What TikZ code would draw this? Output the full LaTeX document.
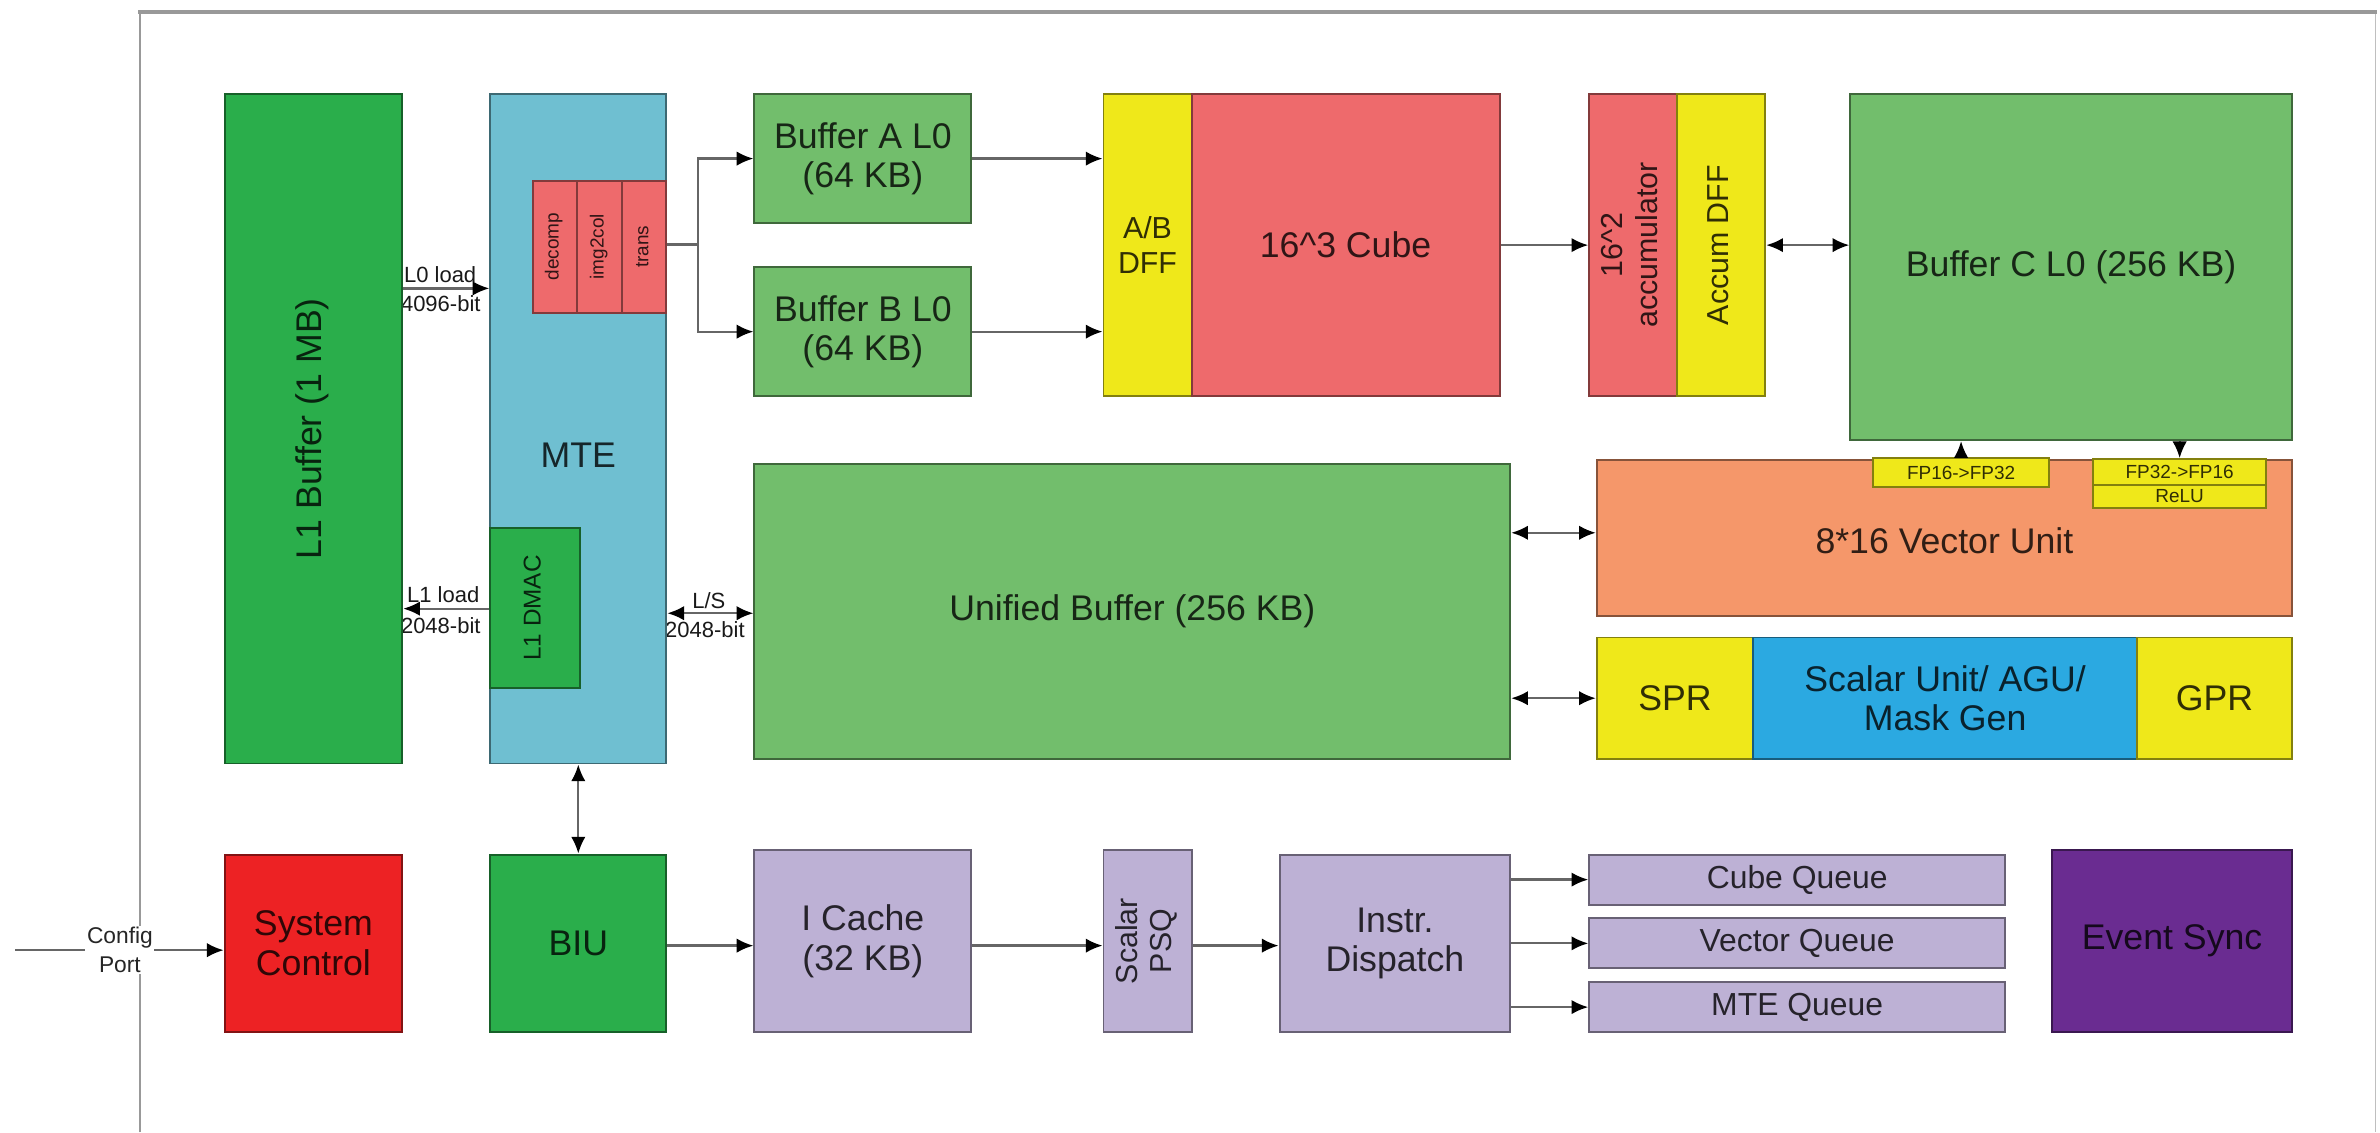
\documentclass[tikz,border=0pt]{standalone}
\usepackage{fontspec}
\setmainfont{Liberation Sans}
\usetikzlibrary{arrows.meta}
\definecolor{dgreen}{HTML}{2AAE4B}
\definecolor{lgreen}{HTML}{72BE6C}
\definecolor{mteblue}{HTML}{6FBFD1}
\definecolor{cubered}{HTML}{EE6A6C}
\definecolor{dffyel}{HTML}{EFE81A}
\definecolor{vecorange}{HTML}{F5976A}
\definecolor{scalblue}{HTML}{2BA9E1}
\definecolor{sysred}{HTML}{ED2224}
\definecolor{lav}{HTML}{BDB1D5}
\definecolor{evpurple}{HTML}{6A2C91}
\newcommand\vtxt[1]{\rotatebox{90}{\begin{tabular}{@{}c@{}}#1\end{tabular}}}
\tikzset{
  blk/.style={draw=#1!55!black, fill=#1, line width=1.3pt, inner sep=0pt,
              text=#1!20!black, align=center, font=\fontsize{23.5}{26}\selectfont},
  small/.style={font=\fontsize{14.5}{15}\selectfont, inner sep=0pt, text=black!90},
  arr/.style={draw=black!60, line width=1.5pt, -{Latex[length=11pt,width=9.5pt,color=black]}},
  darr/.style={draw=black!60, line width=1.5pt, {Latex[length=11pt,width=9.5pt,color=black]}-{Latex[length=11pt,width=9.5pt,color=black]}},
  plain/.style={draw=black!60, line width=1.5pt}
}
\begin{document}
\begin{tikzpicture}[x=1pt,y=-1pt]
\useasboundingbox (0,0) rectangle (1568,746);
% frame
\draw[draw=black!40, line width=1.5pt] (92,746) -- (92,8);
\draw[draw=black!25, line width=1pt] (1565,8) -- (1565,746);
\draw[draw=black!40, line width=3pt] (91,8) -- (1566,8);

% link labels (behind boxes)
\node[small, anchor=west] (l0a) at (266,181) {L0 load};
\node[small, anchor=west] (l0b) at (264,200) {4096-bit};
\node[small, anchor=west] (l1a) at (268,392) {L1 load};
\node[small, anchor=west] (l1b) at (264,412) {2048-bit};
\node[small] (lsa) at (467,396) {L/S};
\node[small, anchor=west] (lsb) at (438,415) {2048-bit};

% top-left column
\node[blk=dgreen, minimum width=117pt, minimum height=441pt] (l1buf) at (206.5,282.5) {\vtxt{L1 Buffer (1 MB)}};
\node[blk=mteblue, minimum width=116pt, minimum height=441pt] (mte) at (381,282.5) {};
\node[text=mteblue!20!black, font=\fontsize{23.5}{26}\selectfont] (mtel) at (381,300) {MTE};
\node[blk=cubered, minimum width=29pt, minimum height=87pt, font=\fontsize{12.5}{13}\selectfont] (decomp) at (365.5,162.5) {\vtxt{decomp}};
\node[blk=cubered, minimum width=30pt, minimum height=87pt, font=\fontsize{12.5}{13}\selectfont] (img2col) at (395,162.5) {\vtxt{img2col}};
\node[blk=cubered, minimum width=29pt, minimum height=87pt, font=\fontsize{12.5}{13}\selectfont] (trans) at (424.5,162.5) {\vtxt{trans}};
\node[blk=dgreen, minimum width=59pt, minimum height=105pt, font=\fontsize{16}{18}\selectfont] (dmac) at (352.5,400.5) {\vtxt{L1 DMAC}};

% buffers and cube
\node[blk=lgreen, minimum width=143pt, minimum height=85pt] (bufa) at (568.5,104.5) {Buffer A L0\\(64 KB)};
\node[blk=lgreen, minimum width=143pt, minimum height=85pt] (bufb) at (568.5,218.5) {Buffer B L0\\(64 KB)};
\node[blk=dffyel, minimum width=58pt, minimum height=199pt, font=\fontsize{20}{23}\selectfont] (abdff) at (756,161.5) {A/B\\DFF};
\node[blk=cubered, minimum width=203pt, minimum height=199pt] (cube) at (886.5,161.5) {16\textasciicircum 3 Cube};
\node[blk=cubered, minimum width=58pt, minimum height=199pt, font=\fontsize{20}{23}\selectfont] (acc) at (1076,161.5) {\vtxt{16\textasciicircum 2\\accumulator}};
\node[blk=dffyel, minimum width=58pt, minimum height=199pt, font=\fontsize{20}{23}\selectfont] (accdff) at (1134,161.5) {\vtxt{Accum DFF}};
\node[blk=lgreen, minimum width=291pt, minimum height=228pt] (bufc) at (1364.5,176) {Buffer C L0 (256 KB)};

% unified buffer, vector, scalar
\node[blk=lgreen, minimum width=498pt, minimum height=194pt] (ub) at (746,403) {Unified Buffer (256 KB)};
\node[blk=vecorange, minimum width=458pt, minimum height=103pt] (vec) at (1281,354.5) {};
\node[text=vecorange!20!black, font=\fontsize{23.5}{26}\selectfont] (vecl) at (1281,356) {8*16 Vector Unit};
\node[blk=dffyel, minimum width=116pt, minimum height=19pt, font=\fontsize{12.5}{13}\selectfont] (fpa) at (1292,311.5) {FP16->FP32};
\node[blk=dffyel, minimum width=114pt, minimum height=17pt, font=\fontsize{12.5}{13}\selectfont] (fpb) at (1436,311) {FP32->FP16};
\node[blk=dffyel, minimum width=114pt, minimum height=15pt, font=\fontsize{12.5}{13}\selectfont] (relu) at (1436,327) {ReLU};
\node[blk=dffyel, minimum width=103pt, minimum height=80pt] (spr) at (1103.5,460) {SPR};
\node[blk=scalblue, minimum width=253pt, minimum height=80pt] (scal) at (1281.5,460) {Scalar Unit/ AGU/\\Mask Gen};
\node[blk=dffyel, minimum width=102pt, minimum height=80pt] (gpr) at (1459,460) {GPR};

% bottom row
\node[blk=sysred, minimum width=117pt, minimum height=117pt] (sys) at (206.5,621.5) {System\\Control};
\node[blk=dgreen, minimum width=116pt, minimum height=117pt] (biu) at (381,621.5) {BIU};
\node[blk=lav, minimum width=143pt, minimum height=120pt] (icache) at (568.5,620) {I Cache\\(32 KB)};
\node[blk=lav, minimum width=58pt, minimum height=120pt, font=\fontsize{20}{23}\selectfont] (psq) at (756,620) {\vtxt{Scalar\\PSQ}};
\node[blk=lav, minimum width=152pt, minimum height=117pt] (disp) at (919,621.5) {Instr.\\Dispatch};
\node[blk=lav, minimum width=274pt, minimum height=33pt, font=\fontsize{21}{24}\selectfont] (cq) at (1184,579.5) {Cube Queue};
\node[blk=lav, minimum width=274pt, minimum height=33pt, font=\fontsize{21}{24}\selectfont] (vq) at (1184,621.5) {Vector Queue};
\node[blk=lav, minimum width=274pt, minimum height=33pt, font=\fontsize{21}{24}\selectfont] (mq) at (1184,663.5) {MTE Queue};
\node[blk=evpurple, minimum width=158pt, minimum height=120pt] (ev) at (1431,620) {Event Sync};

% connectors
\draw[arr] (l1buf.east |- 0,190) -- (mte.west |- 0,190);
\draw[arr] (mte.west |- 0,401) -- (l1buf.east |- 0,401);
\draw[darr] (mte.east |- 0,404) -- (ub.west |- 0,404);
\coordinate (br) at (460,161);
\draw[plain] (trans.east |- br) -- (br);
\draw[arr] (br) |- (bufa.west);
\draw[arr] (br) |- (bufb.west);
\draw[arr] (bufa.east) -- (abdff.west |- bufa.east);
\draw[arr] (bufb.east) -- (abdff.west |- bufb.east);
\draw[arr] (cube.east) -- (acc.west);
\draw[darr] (accdff.east) -- (bufc.west |- accdff.east);
\draw[arr] (fpa.north) -- (fpa.north |- bufc.south);
\draw[arr] (fpb.north |- bufc.south) -- (fpb.north);
\draw[darr] (ub.east |- 0,351) -- (vec.west |- 0,351);
\draw[darr] (ub.east |- spr.west) -- (spr.west);
\draw[darr] (mte.south) -- (biu.north);
\coordinate (cfg) at (10,626);
\draw[arr] (cfg) -- (sys.west |- cfg);
\node[fill=white, inner sep=1pt, align=center, font=\fontsize{15}{19}\selectfont, text=black!85] (cfgl) at (79,626) {Config\\Port};
\draw[arr] (biu.east |- 0,623) -- (icache.west |- 0,623);
\draw[arr] (icache.east |- 0,623) -- (psq.west |- 0,623);
\draw[arr] (psq.east |- 0,623) -- (disp.west |- 0,623);
\draw[arr] (disp.east |- cq.west) -- (cq.west);
\draw[arr] (disp.east |- vq.west) -- (vq.west);
\draw[arr] (disp.east |- mq.west) -- (mq.west);
\end{tikzpicture}
\end{document}
